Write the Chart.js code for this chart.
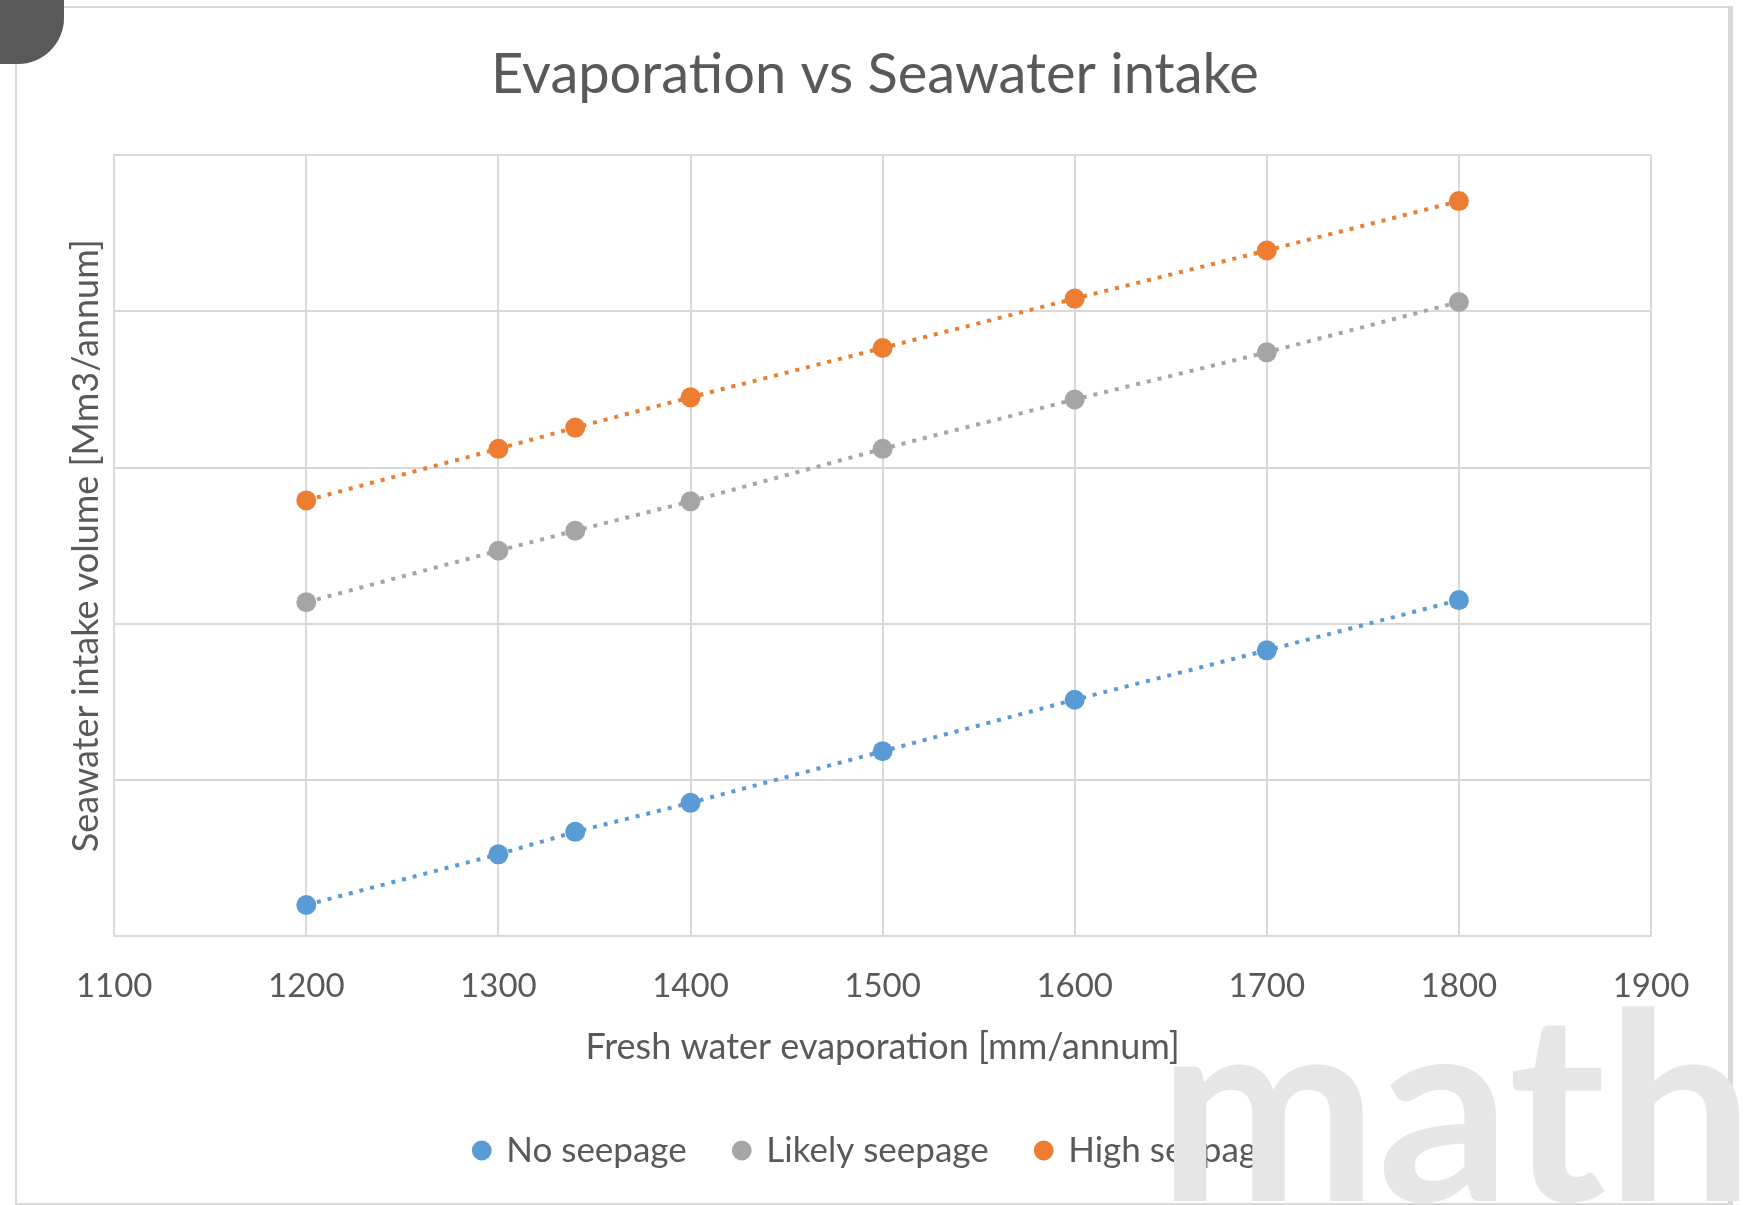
<!DOCTYPE html>
<html>
<head>
<meta charset="utf-8">
<script src="https://cdn.jsdelivr.net/npm/chart.js@4.4.1/dist/chart.umd.min.js"></script>
<style>
  html, body { margin: 0; padding: 0; background: #fff; }
  #wrap { position: relative; width: 1752px; height: 1205px; overflow: hidden; }
  #frame { position: absolute; left: 15px; top: 6px; width: 1711px; height: 1195px;
           border: 2px solid #d9d9d9; border-right-width: 5px; box-sizing: content-box; }
  #blob { position: absolute; left: 0; top: 0; width: 64px; height: 64px; background: #595959;
          border-bottom-right-radius: 46px; }
  canvas { position: absolute; left: 0; top: 0; }
</style>
</head>
<body>
<div id="wrap">
  <div id="frame"></div>
  <canvas id="chart" width="1752" height="1205"></canvas>
  <div id="blob"></div>
</div>
<script>
const evaporation = [1200, 1300, 1340, 1400, 1500, 1600, 1700, 1800];
const noSeepage = [10.0, 26.2, 33.4, 42.7, 59.2, 75.7, 91.5, 107.6];
const likelySeepage = [106.9, 123.4, 129.8, 139.2, 156.0, 171.8, 186.9, 203.0];
const highSeepage = [139.5, 156.0, 162.8, 172.5, 188.3, 204.1, 219.5, 235.3];
const seriesNames = ['No seepage', 'Likely seepage', 'High seepage'];
const seriesColors = ['#5b9bd5', '#a5a5a5', '#ed7d31'];

const textColor = '#595959';
const gridColor = '#d9d9d9';
const fontFamily = 'Lato, "Open Sans", sans-serif';

function makeSet(i, values) {
  return {
    label: seriesNames[i],
    data: evaporation.map((x, k) => ({ x: x, y: values[k] })),
    borderColor: seriesColors[i],
    backgroundColor: seriesColors[i],
    pointBackgroundColor: seriesColors[i],
    pointBorderWidth: 0,
    pointRadius: 10,
    borderWidth: 4,
    borderDash: [4, 7],
    borderCapStyle: 'butt',
    showLine: true,
    fill: false
  };
}

// big light "math" stamp drawn over everything
const watermark = {
  id: 'watermark',
  afterDraw(chart) {
    const c = chart.ctx;
    c.save();
    c.fillStyle = '#e6e6e6';
    c.font = 'bold 262px ' + fontFamily;
    c.textBaseline = 'alphabetic';
    c.textAlign = 'left';
    c.fillText('math', 1158, 1201);
    c.restore();
  }
};

new Chart(document.getElementById('chart'), {
  type: 'scatter',
  data: {
    datasets: [makeSet(0, noSeepage), makeSet(1, likelySeepage), makeSet(2, highSeepage)]
  },
  plugins: [watermark],
  options: {
    responsive: false,
    animation: false,
    layout: { padding: { top: 20, left: 99, right: 101, bottom: 27 } },
    plugins: {
      title: {
        display: true,
        text: 'Evaporation vs Seawater intake',
        color: textColor,
        font: { family: fontFamily, size: 56, weight: 'normal' },
        padding: { top: 21, bottom: 47 }
      },
      legend: {
        position: 'bottom',
        labels: {
          usePointStyle: true,
          pointStyle: 'circle',
          boxWidth: 14,
          boxHeight: 14,
          padding: 48,
          color: textColor,
          font: { family: fontFamily, size: 35 }
        }
      },
      tooltip: { enabled: false }
    },
    scales: {
      x: {
        type: 'linear',
        min: 1100,
        max: 1900,
        ticks: { stepSize: 100, color: textColor, padding: 30,
                 font: { family: fontFamily, size: 33 },
                 callback: v => String(v) },
        grid: { color: gridColor, lineWidth: 2, drawTicks: false },
        border: { color: gridColor, width: 2 },
        title: { display: true, text: 'Fresh water evaporation [mm/annum]', color: textColor,
                 font: { family: fontFamily, size: 36 }, padding: { top: -10, bottom: 16 } }
      },
      y: {
        min: 0,
        max: 250,
        ticks: { stepSize: 50, display: false },
        grid: { color: gridColor, lineWidth: 2, drawTicks: false },
        border: { color: gridColor, width: 2 },
        title: { display: true, text: 'Seawater intake volume [Mm3/annum]', color: textColor,
                 font: { family: fontFamily, size: 36 }, padding: { top: -34, bottom: 6 } }
      }
    }
  }
});
</script>
</body>
</html>
